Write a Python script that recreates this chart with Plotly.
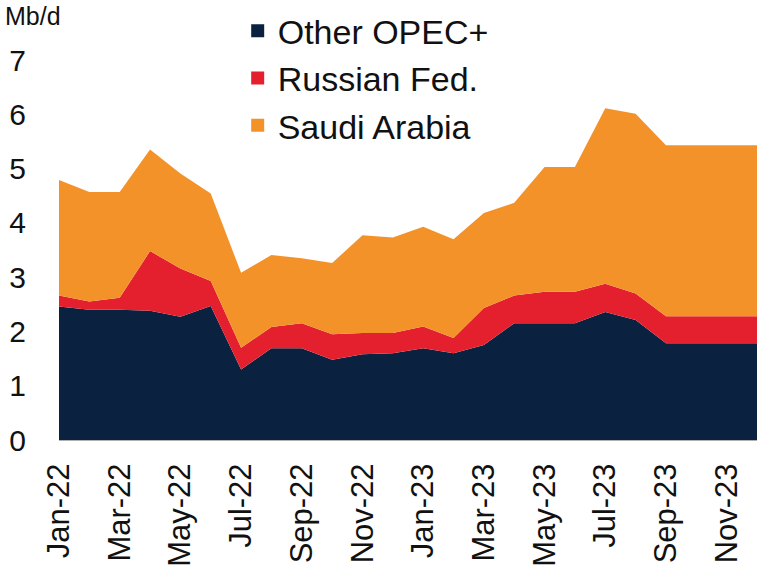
import plotly.graph_objects as go

months = ["Jan-22", "Feb-22", "Mar-22", "Apr-22", "May-22", "Jun-22",
          "Jul-22", "Aug-22", "Sep-22", "Oct-22", "Nov-22", "Dec-22",
          "Jan-23", "Feb-23", "Mar-23", "Apr-23", "May-23", "Jun-23",
          "Jul-23", "Aug-23", "Sep-23", "Oct-23", "Nov-23", "Dec-23"]

other_opec = [2.46, 2.40, 2.40, 2.38, 2.27, 2.47, 1.30, 1.69, 1.69, 1.48, 1.58, 1.60,
              1.69, 1.60, 1.75, 2.15, 2.15, 2.15, 2.36, 2.21, 1.78, 1.78, 1.78, 1.78]
russia = [0.20, 0.15, 0.22, 1.10, 0.89, 0.46, 0.40, 0.39, 0.46, 0.47, 0.39, 0.37,
          0.40, 0.28, 0.68, 0.51, 0.58, 0.58, 0.52, 0.49, 0.50, 0.50, 0.50, 0.50]
saudi = [2.13, 2.02, 1.95, 1.87, 1.75, 1.61, 1.38, 1.33, 1.20, 1.31, 1.80, 1.76,
         1.84, 1.82, 1.75, 1.71, 2.30, 2.30, 3.23, 3.31, 3.15, 3.15, 3.15, 3.15]

font = "Arial, Liberation Sans, sans-serif"
series = [("Other OPEC+", other_opec, "#0a2240"),
          ("Russian Fed.", russia, "#e4202e"),
          ("Saudi Arabia", saudi, "#f4922a")]

fig = go.Figure()
for name, vals, col in series:
    fig.add_trace(go.Scatter(
        x=months, y=vals, name=name, stackgroup="one",
        mode="none", fillcolor=col, line=dict(width=0), showlegend=False
    ))

# square legend keys like the original
for name, vals, col in series:
    fig.add_trace(go.Scatter(
        x=[None], y=[None], name=name, mode="markers",
        marker=dict(symbol="square", size=13, color=col)
    ))

fig.update_layout(
    width=761, height=583,
    margin=dict(l=59, r=4, t=60, b=143, autoexpand=False),
    paper_bgcolor="white", plot_bgcolor="white",
    font=dict(family=font, size=28, color="#111111"),
    showlegend=True,
    legend=dict(x=0.256, y=1.152, xanchor="left", yanchor="top",
                bgcolor="rgba(0,0,0,0)", font=dict(size=34),
                traceorder="normal", itemwidth=30, tracegroupgap=0),
    annotations=[dict(text="Mb/d", xref="paper", yref="paper", x=0, y=1,
                      xshift=-56, yshift=28, xanchor="left", yanchor="bottom",
                      showarrow=False, font=dict(size=25))]
)

fig.update_xaxes(
    type="category", range=[0, 23], automargin=False,
    tickmode="array", tickvals=months[0::2], tickangle=-90,
    ticks="outside", ticklen=10, tickcolor="rgba(0,0,0,0)",
    showline=True, linecolor="#b0b0b0", linewidth=1,
    showgrid=False, tickfont=dict(size=31)
)
fig.update_yaxes(
    range=[0, 7], dtick=1, showgrid=False, zeroline=False, automargin=False,
    ticks="outside", ticklen=26, tickcolor="rgba(0,0,0,0)",
    tickfont=dict(size=30)
)

# drop the default page margin so the figure sits at the window corner
fig.write_html("out.html", config={"displayModeBar": False},
               post_script="document.body.style.margin='0';")
